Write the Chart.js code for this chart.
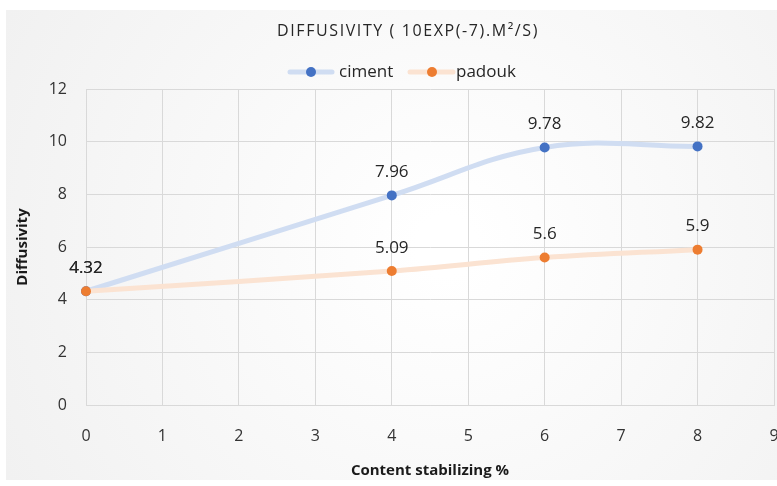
<!DOCTYPE html>
<html>
<head>
<meta charset="utf-8">
<script src="https://cdn.jsdelivr.net/npm/chart.js@4/dist/chart.umd.min.js"></script>
<style>
  html, body { margin: 0; padding: 0; background: #ffffff; overflow: hidden; width: 777px; height: 486px; }
  #wrap { position: absolute; left: 6px; top: 10px; width: 800px; height: 470px; }
</style>
</head>
<body>
<div id="wrap"><canvas id="c" width="800" height="470"></canvas></div>
<script>
// ---- data ----
const titleText = 'DIFFUSIVITY ( 10EXP(-7).M\u00B2/S)';
const xTitle = 'Content stabilizing %';
const yTitle = 'Diffusivity';
const seriesNames = ['ciment', 'padouk'];
const contentX = [0, 4, 6, 8];
const cimentValues = [4.32, 7.96, 9.78, 9.82];
const padoukValues = [4.32, 5.09, 5.6, 5.9];
const xMin = 0, xMax = 9, xStep = 1;
const yMin = 0, yMax = 12, yStep = 2;

const FONT = "'Open Sans', sans-serif";
const lineColors = ['#d0ddf2', '#fbe3d2'];
const pointColors = ['#4472c4', '#ed7d31'];

function toPoints(xs, ys) { return xs.map((x, i) => ({ x: x, y: ys[i] })); }

const bgPlugin = {
  id: 'bg',
  beforeDraw(chart) {
    const ctx = chart.ctx, w = chart.width, h = chart.height;
    const g = ctx.createRadialGradient(w * 0.55, h * 0.5, 30, w * 0.55, h * 0.5, w * 0.62);
    g.addColorStop(0, '#ffffff');
    g.addColorStop(1, '#f1f1f1');
    ctx.save();
    ctx.fillStyle = g;
    ctx.fillRect(0, 0, w, h);
    ctx.restore();
  }
};

const headerPlugin = {
  id: 'header',
  afterDraw(chart) {
    const ctx = chart.ctx;
    ctx.save();
    // title
    ctx.fillStyle = '#262626';
    ctx.font = '16px ' + FONT;
    try { ctx.letterSpacing = '1.6px'; } catch (e) {}
    ctx.textAlign = 'center';
    ctx.textBaseline = 'middle';
    ctx.fillText(titleText, 402, 21);
    try { ctx.letterSpacing = '0px'; } catch (e) {}
    // legend
    const items = [
      { name: seriesNames[0], x0: 284, x1: 326, dot: 305, tx: 333, i: 0 },
      { name: seriesNames[1], x0: 404, x1: 447, dot: 426, tx: 450, i: 1 }
    ];
    const ly = 62;
    items.forEach(it => {
      ctx.strokeStyle = lineColors[it.i];
      ctx.lineWidth = 5;
      ctx.lineCap = 'round';
      ctx.beginPath(); ctx.moveTo(it.x0, ly); ctx.lineTo(it.x1, ly); ctx.stroke();
      ctx.fillStyle = pointColors[it.i];
      ctx.beginPath(); ctx.arc(it.dot, ly, 5, 0, Math.PI * 2); ctx.fill();
      ctx.fillStyle = '#262626';
      ctx.font = '17px ' + FONT;
      ctx.textAlign = 'left';
      ctx.textBaseline = 'middle';
      ctx.fillText(it.name, it.tx, ly);
    });
    ctx.restore();
  }
};

const labelPlugin = {
  id: 'dataLabels',
  afterDatasetsDraw(chart) {
    const ctx = chart.ctx;
    ctx.save();
    ctx.fillStyle = '#262626';
    ctx.font = '17px ' + FONT;
    ctx.textAlign = 'center';
    ctx.textBaseline = 'middle';
    chart.data.datasets.forEach((ds, di) => {
      const meta = chart.getDatasetMeta(di);
      meta.data.forEach((pt, i) => {
        ctx.fillText(String(ds.data[i].y), pt.x, pt.y - 23);
      });
    });
    ctx.restore();
  }
};

new Chart(document.getElementById('c'), {
  type: 'line',
  data: {
    datasets: [
      {
        label: seriesNames[0],
        data: toPoints(contentX, cimentValues),
        borderColor: lineColors[0],
        borderWidth: 5,
        pointBackgroundColor: pointColors[0],
        pointBorderColor: pointColors[0],
        pointRadius: 5,
        pointBorderWidth: 0,
        tension: 0.4,
        clip: false,
        order: 1
      },
      {
        label: seriesNames[1],
        data: toPoints(contentX, padoukValues),
        borderColor: lineColors[1],
        borderWidth: 5,
        pointBackgroundColor: pointColors[1],
        pointBorderColor: pointColors[1],
        pointRadius: 5,
        pointBorderWidth: 0,
        tension: 0.4,
        clip: false,
        order: 0
      }
    ]
  },
  options: {
    responsive: false,
    animation: false,
    events: [],
    layout: { padding: { top: 79, left: 0, right: 32, bottom: 0 } },
    plugins: {
      legend: { display: false },
      title: { display: false },
      tooltip: { enabled: false }
    },
    scales: {
      x: {
        type: 'linear',
        min: xMin, max: xMax,
        afterFit(s) { s.height = 75; },
        ticks: { stepSize: xStep, color: '#333333', font: { family: FONT, size: 16 }, padding: 22 },
        grid: { color: '#d9d9d9', lineWidth: 1, drawTicks: false },
        border: { color: '#d9d9d9' },
        title: { display: true, text: xTitle, color: '#1a1a1a', font: { family: FONT, size: 15, weight: 'bold' }, padding: { top: 0, bottom: 0 } }
      },
      y: {
        min: yMin, max: yMax,
        afterFit(s) { s.width = 80; },
        ticks: { stepSize: yStep, color: '#333333', font: { family: FONT, size: 16 }, padding: 19 },
        grid: { color: '#d9d9d9', lineWidth: 1, drawTicks: false },
        border: { color: '#d9d9d9' },
        title: { display: true, text: yTitle, color: '#1a1a1a', font: { family: FONT, size: 15, weight: 'bold' }, padding: { top: 8, bottom: 0 } }
      }
    }
  },
  plugins: [bgPlugin, headerPlugin, labelPlugin]
});
</script>
</body>
</html>
